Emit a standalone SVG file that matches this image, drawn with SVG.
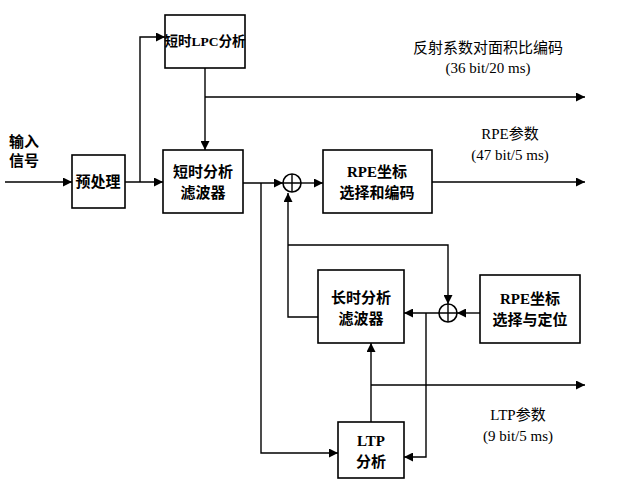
<svg xmlns="http://www.w3.org/2000/svg" width="617" height="497" viewBox="0 0 617 497">
<style>
.b{fill:#fff;stroke:#000;stroke-width:1.6}
.l{fill:none;stroke:#000;stroke-width:1.4}
text{font-family:"Liberation Serif","Noto Sans CJK SC",serif;font-size:15px;text-anchor:middle;font-weight:bold}
.n{font-weight:normal}
</style>
<defs><marker id="a" viewBox="0 0 10 10" refX="10" refY="5" markerWidth="9" markerHeight="9" markerUnits="userSpaceOnUse" orient="auto"><path d="M0,0L10,5L0,10z"/></marker></defs>
<g id="connectors">
<path class="l" d="M5,182H72" marker-end="url(#a)"/>
<path class="l" d="M125,182H163" marker-end="url(#a)"/>
<path class="l" d="M140,182V37H165" marker-end="url(#a)"/>
<path class="l" d="M205,68V150" marker-end="url(#a)"/>
<path class="l" d="M205,97H585" marker-end="url(#a)"/>
<path class="l" d="M243,183H283" marker-end="url(#a)"/>
<path class="l" d="M301,183H323" marker-end="url(#a)"/>
<path class="l" d="M432,182H585" marker-end="url(#a)"/>
<path class="l" d="M261,183V453H338" marker-end="url(#a)"/>
<path class="l" d="M318,317H288V193" marker-end="url(#a)"/>
<path class="l" d="M288,245H448V304" marker-end="url(#a)"/>
<path class="l" d="M480,313H457" marker-end="url(#a)"/>
<path class="l" d="M439,313H404" marker-end="url(#a)"/>
<path class="l" d="M426,313V457H404" marker-end="url(#a)"/>
<path class="l" d="M371,422V343" marker-end="url(#a)"/>
<path class="l" d="M371,385H585" marker-end="url(#a)"/>
</g>
<g id="add1"><circle cx="292" cy="183" r="9" class="b"/><path class="l" d="M283,183H301M292,174V192"/></g>
<g id="add2"><circle cx="448" cy="313" r="9" class="b"/><path class="l" d="M439,313H457M448,304V322"/></g>
<g id="pre"><rect class="b" x="72" y="155" width="53" height="53"/><text x="98" y="187">预处理</text></g>
<g id="lpc"><rect class="b" x="165" y="15" width="80" height="53"/><text x="205" y="46" style="font-size:13.5px">短时LPC分析</text></g>
<g id="stf"><rect class="b" x="163" y="150" width="80" height="63"/><text x="203" y="177">短时分析</text><text x="203" y="198">滤波器</text></g>
<g id="rpe1"><rect class="b" x="323" y="150" width="109" height="63"/><text x="377" y="177">RPE坐标</text><text x="377" y="198">选择和编码</text></g>
<g id="ltf"><rect class="b" x="318" y="270" width="86" height="73"/><text x="361" y="303">长时分析</text><text x="361" y="324">滤波器</text></g>
<g id="rpe2"><rect class="b" x="480" y="275" width="100" height="68"/><text x="530" y="304">RPE坐标</text><text x="530" y="325">选择与定位</text></g>
<g id="ltp"><rect class="b" x="338" y="422" width="66" height="56"/><text x="371" y="446">LTP</text><text x="371" y="467">分析</text></g>
<text x="24" y="147">输入</text><text x="24" y="166">信号</text>
<text x="488" y="53" class="n">反射系数对面积比编码</text>
<text x="488" y="73" class="n">(36 bit/20 ms)</text>
<text x="510" y="139" class="n">RPE参数</text>
<text x="510" y="160" class="n">(47 bit/5 ms)</text>
<text x="518" y="420" class="n">LTP参数</text>
<text x="518" y="441" class="n">(9 bit/5 ms)</text>
</svg>
